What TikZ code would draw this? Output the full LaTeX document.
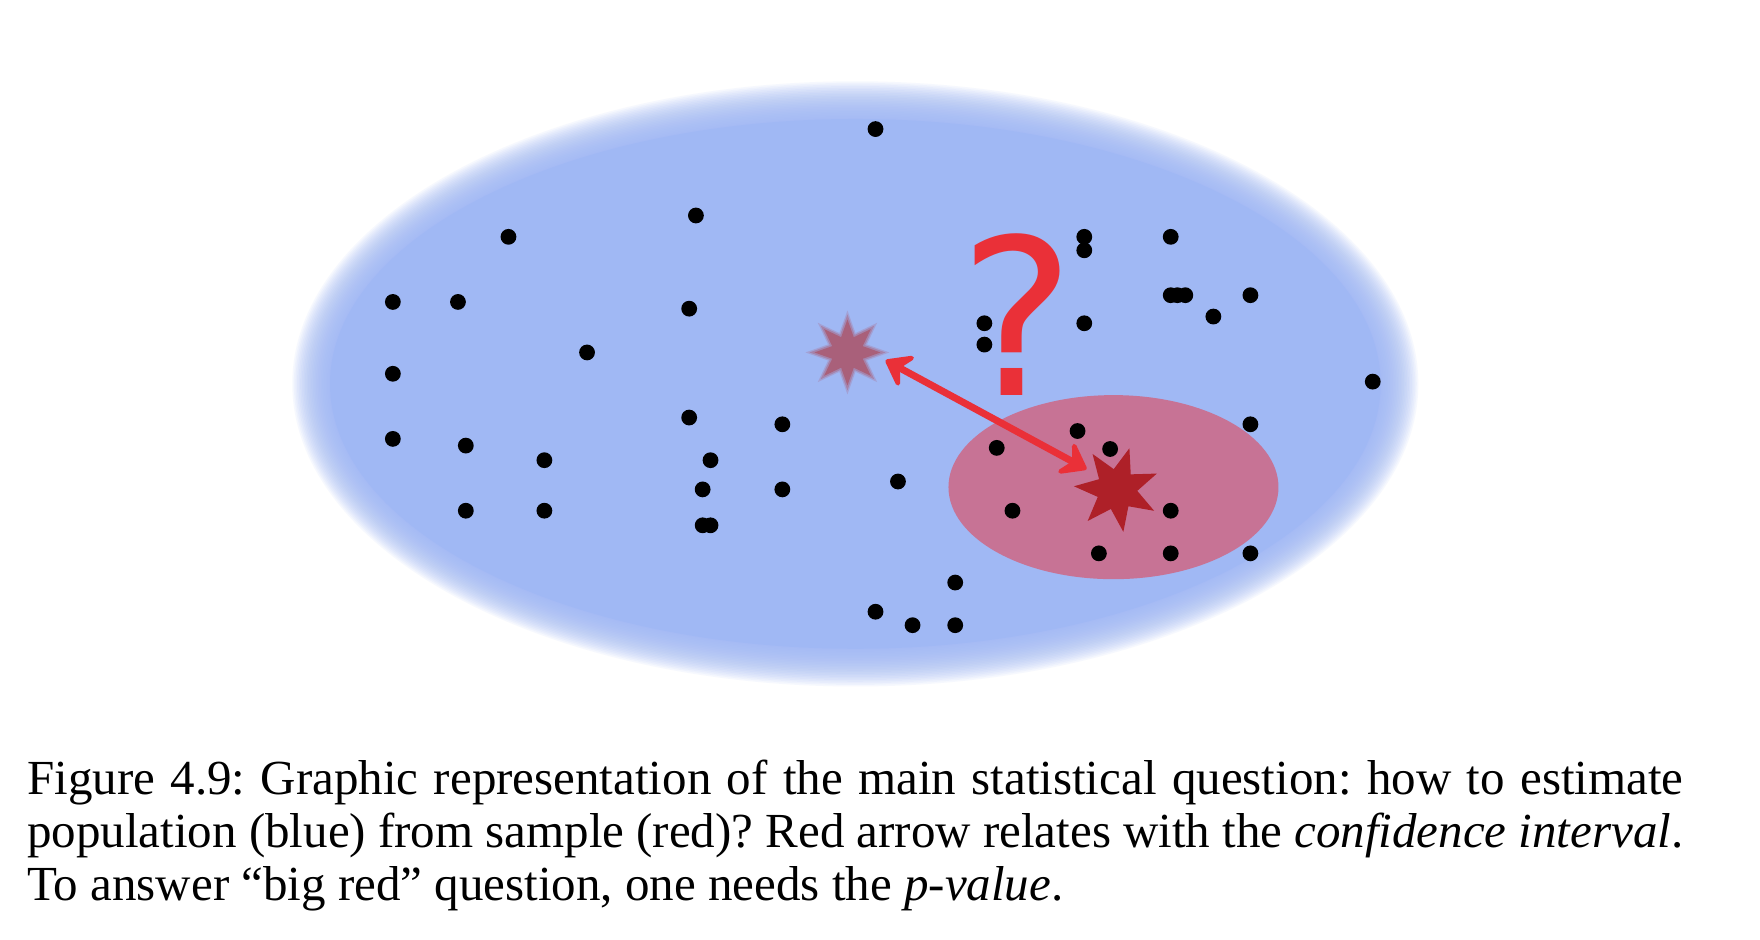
\documentclass[tikz,border=0pt]{standalone}
\usepackage{fontspec}
\setmainfont{Liberation Serif}
\newfontfamily\qfont{DejaVu Sans}
\usetikzlibrary{shapes.geometric,arrows.meta}
\definecolor{popblue}{HTML}{A0B8F4}
\definecolor{samplered}{HTML}{C77395}
\definecolor{darkstar}{HTML}{AE2028}
\definecolor{fadestar}{HTML}{A9607A}
\definecolor{arrred}{HTML}{EA3038}
\begin{document}
\begin{tikzpicture}[x=0.5612pt,y=-0.5612pt,
  dot/.style={circle,fill=black,inner sep=0pt,minimum size=7.9pt},
  twohead/.style={{Stealth[round,length=15pt,width=22pt,inset=6pt]}-{Stealth[round,length=15pt,width=22pt,inset=6pt]}}]
\useasboundingbox[fill=white] (0,0) rectangle (1568,837);
% population (blue), fuzzy edge
\foreach \k in {1,...,24}{
  \fill[popblue,fill opacity=0.085] (762,342) ellipse ({468+1.4*\k} and {236+1.4*\k});
}
\fill[popblue] (762,342) ellipse (468 and 236);
% faded star (population parameter)
\node[star,star points=8,star point ratio=2,fill=fadestar,fill opacity=0.25,minimum size=42pt,inner sep=0pt] (fstarA) at (755,314) {};
\node[star,star points=8,star point ratio=2,fill=fadestar,fill opacity=0.45,minimum size=38pt,inner sep=0pt] (fstarB) at (755,314) {};
\node[star,star points=8,star point ratio=2,fill=fadestar,minimum size=33pt,inner sep=0pt] (fstar) at (755,314) {};
% sample (red)
\fill[samplered] (992,434) ellipse (147 and 82);
\node[star,star points=7,star point ratio=2.1,fill=darkstar,minimum size=43pt,inner sep=0pt,shape border rotate=-17] (dstar) at (995,436) {};
% dots
\foreach [count=\i] \x/\y in {780/115,620/192,453/211,966/211,966/223,1043/211,350/269,408/269,614/275,
  1043/263,1049/263,1056/263,1114/263,1081/282,877/288,966/288,877/307,523/314,350/333,1223/340,
  614/372,697/378,1114/378,350/391,960/384,415/397,888/399,989/400,485/410,633/410,626/436,697/436,
  800/429,415/455,485/455,902/455,1043/455,626/468,633/468,979/493,1043/493,1114/493,851/519,
  780/545,813/557,851/557}
  \node[dot] (d\i) at (\x,\y) {};
% arrow
\coordinate (a1) at (789,321);
\coordinate (a2) at (968,418);
\draw[arrred,line width=3.5pt,twohead] (a1) -- (a2);
% question mark
\node[text=arrred,font=\qfont\fontsize{109}{109}\selectfont,inner sep=0pt,anchor=base] (q) at (906,352) {?};
% caption
\node[anchor=north west,inner sep=0pt,text width=828pt,align=justify,
  font=\fontsize{24.5}{26.4}\selectfont\frenchspacing] (cap) at (24,677)
  {Figure 4.9: Graphic representation of the main statistical question: how to estimate\linebreak
   population (blue) from sample (red)? Red arrow relates with the \emph{confidence interval}.\linebreak
   To answer “big red” question, one needs the \emph{p-value}.};
\end{tikzpicture}
\end{document}
